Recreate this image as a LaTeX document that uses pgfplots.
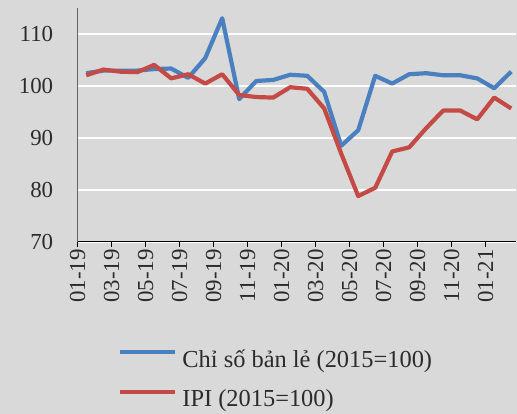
\documentclass[border=0pt]{standalone}
\usepackage{pgfplots}
\pgfplotsset{compat=1.18}
\usepackage{fontspec}
\setmainfont{Liberation Serif}
\definecolor{bg}{HTML}{D9D9D9}
\definecolor{retail}{HTML}{4A80C0}
\definecolor{ipi}{HTML}{C44A45}
\definecolor{txt}{HTML}{2B2B2B}
\newcommand{\lblfont}{\fontsize{23}{27}\selectfont}
\newcommand{\legfont}{\fontsize{24.5}{28}\selectfont}

\pgfplotstableread{
i   retail ipi
0.5  102.5 102.1
1.5  103.0 103.2
2.5  103.0 102.8
3.5  103.0 102.7
4.5  103.3 104.1
5.5  103.4 101.5
6.5  101.6 102.3
7.5  105.4 100.5
8.5  113.1 102.3
9.5   97.5  98.3
10.5 101.0  97.9
11.5 101.2  97.8
12.5 102.2  99.8
13.5 102.0  99.5
14.5  98.9  95.7
15.5  88.5  87.0
16.5  91.5  78.8
17.5 102.0  80.4
18.5 100.5  87.4
19.5 102.3  88.2
20.5 102.5  91.9
21.5 102.1  95.3
22.5 102.1  95.3
23.5 101.5  93.6
24.5  99.6  97.8
25.5 102.8  95.7
}\data

\begin{document}
\begin{tikzpicture}
\path[use as bounding box, fill=bg] (0,0) rectangle (517bp,414bp);
\begin{axis}[
  at={(77.7bp,172.3bp)}, anchor=south west,
  scale only axis, width=438.6bp, height=233.3bp,
  xmin=0, xmax=25.8, ymin=70, ymax=115,
  axis x line*=bottom, axis y line*=left,
  x axis line style={black, line width=1.2bp},
  y axis line style={black!60, line width=1.2bp},
  xtick={0,2,...,24},
  xticklabels={01-19,03-19,05-19,07-19,09-19,11-19,01-20,03-20,05-20,07-20,09-20,11-20,01-21},
  ytick={70,80,90,100,110},
  tick align=outside,
  major tick length=5bp,
  xtick style={black, line width=1bp},
  ytick style={draw=none},
  ymajorgrids, grid style={white, line width=2bp},
  tick label style={font=\lblfont, text=txt},
  xticklabel style={rotate=90, anchor=east, inner sep=2.5bp},
  yticklabel style={xshift=-16bp},
  /pgf/number format/assume math mode=true,
  legend style={at={(0.0919,-0.588)}, anchor=west, draw=none, fill=none,
    inner sep=0bp, font=\legfont, text=txt, row sep=21bp,
    nodes={inner sep=0bp}, column sep=5bp},
  legend cell align=left,
  legend image code/.code={\draw[#1] (0bp,7bp) -- (55bp,7bp);},
]
\addplot[retail, line width=4.2bp, line join=round] table[x=i, y=retail] {\data};
\addlegendentry{Chỉ số bản lẻ (2015=100)}
\addplot[ipi, line width=4.2bp, line join=round] table[x=i, y=ipi] {\data};
\addlegendentry{IPI (2015=100)}
\end{axis}
\end{tikzpicture}
\end{document}
